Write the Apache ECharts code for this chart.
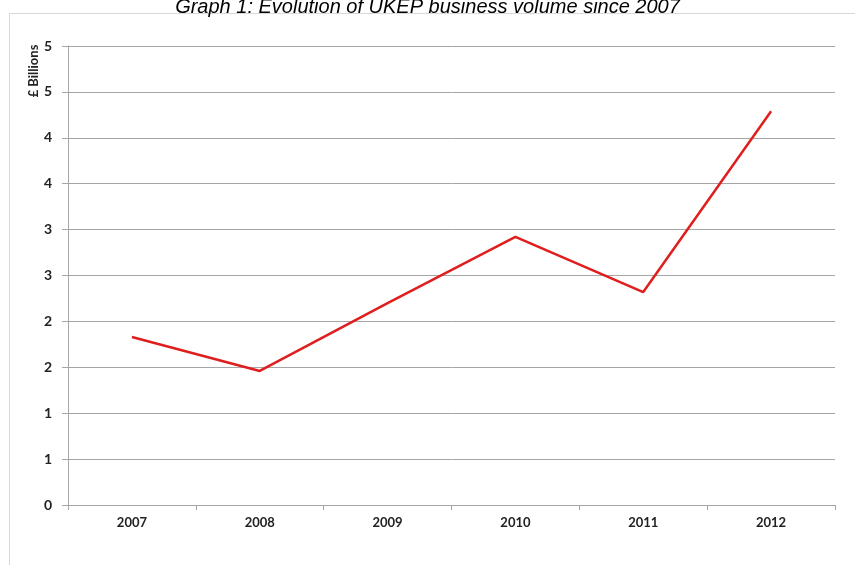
<!DOCTYPE html>
<html>
<head>
<meta charset="utf-8">
<script src="https://cdn.jsdelivr.net/npm/echarts@6/dist/echarts.min.js"></script>
<style>
  html, body { margin: 0; padding: 0; background: #fff; }
  #chart { width: 855px; height: 565px; }
</style>
</head>
<body>
<div id="chart"></div>
<script>
// values (£ billions)
var years = ['2007', '2008', '2009', '2010', '2011', '2012'];
var volume = [1.83, 1.46, 2.20, 2.92, 2.32, 4.29];
var yMin = 0, yMax = 5, yStep = 0.5;
var yName = '£ Billions';

var chart = echarts.init(document.getElementById('chart'));
var axisFont = 'Lato, "Open Sans", sans-serif';

chart.setOption({
  animation: false,
  title: {
    text: 'Graph 1: Evolution of UKEP business volume since 2007',
    left: 'center',
    top: -8,
    textStyle: {
      fontFamily: '"Liberation Sans", Arial, sans-serif',
      fontStyle: 'italic',
      fontWeight: 'normal',
      fontSize: 20,
      color: '#000'
    }
  },
  graphic: [{
    type: 'rect',
    shape: { x: 9.5, y: 13.5, width: 900, height: 600 },
    style: { fill: 'none', stroke: '#d9d9d9', lineWidth: 1 },
    z: -1
  }, {
    // rotated y axis title
    type: 'text',
    x: 34,
    y: 71,
    rotation: Math.PI / 2,
    style: {
      text: yName,
      fontFamily: axisFont,
      fontWeight: 'bold',
      fontSize: 13,
      fill: '#222',
      align: 'center',
      verticalAlign: 'middle'
    }
  }],
  grid: { left: 68, right: 20, top: 46, bottom: 60 },
  xAxis: {
    type: 'category',
    data: years,
    boundaryGap: true,
    axisLine: { lineStyle: { color: '#a6a6a6' } },
    axisTick: { show: true, length: 5, lineStyle: { color: '#a6a6a6' } },
    axisLabel: {
      margin: 11,
      fontFamily: axisFont,
      fontWeight: 'bold',
      fontSize: 13,
      color: '#222'
    }
  },
  yAxis: {
    type: 'value',
    min: yMin,
    max: yMax,
    interval: yStep,
    axisLine: { show: true, lineStyle: { color: '#a6a6a6' } },
    axisTick: { show: true, length: 6, lineStyle: { color: '#a6a6a6' } },
    axisLabel: {
      margin: 16,
      fontFamily: axisFont,
      fontWeight: 'bold',
      fontSize: 14,
      color: '#222',
      formatter: function (v) { return String(Math.round(v)); }
    },
    splitLine: { show: true, lineStyle: { color: '#a6a6a6', width: 1 } }
  },
  series: [{
    name: 'Business volume',
    type: 'line',
    data: volume,
    symbol: 'none',
    lineStyle: { color: '#e01e1e', width: 2.5 }
  }]
});
</script>
</body>
</html>
